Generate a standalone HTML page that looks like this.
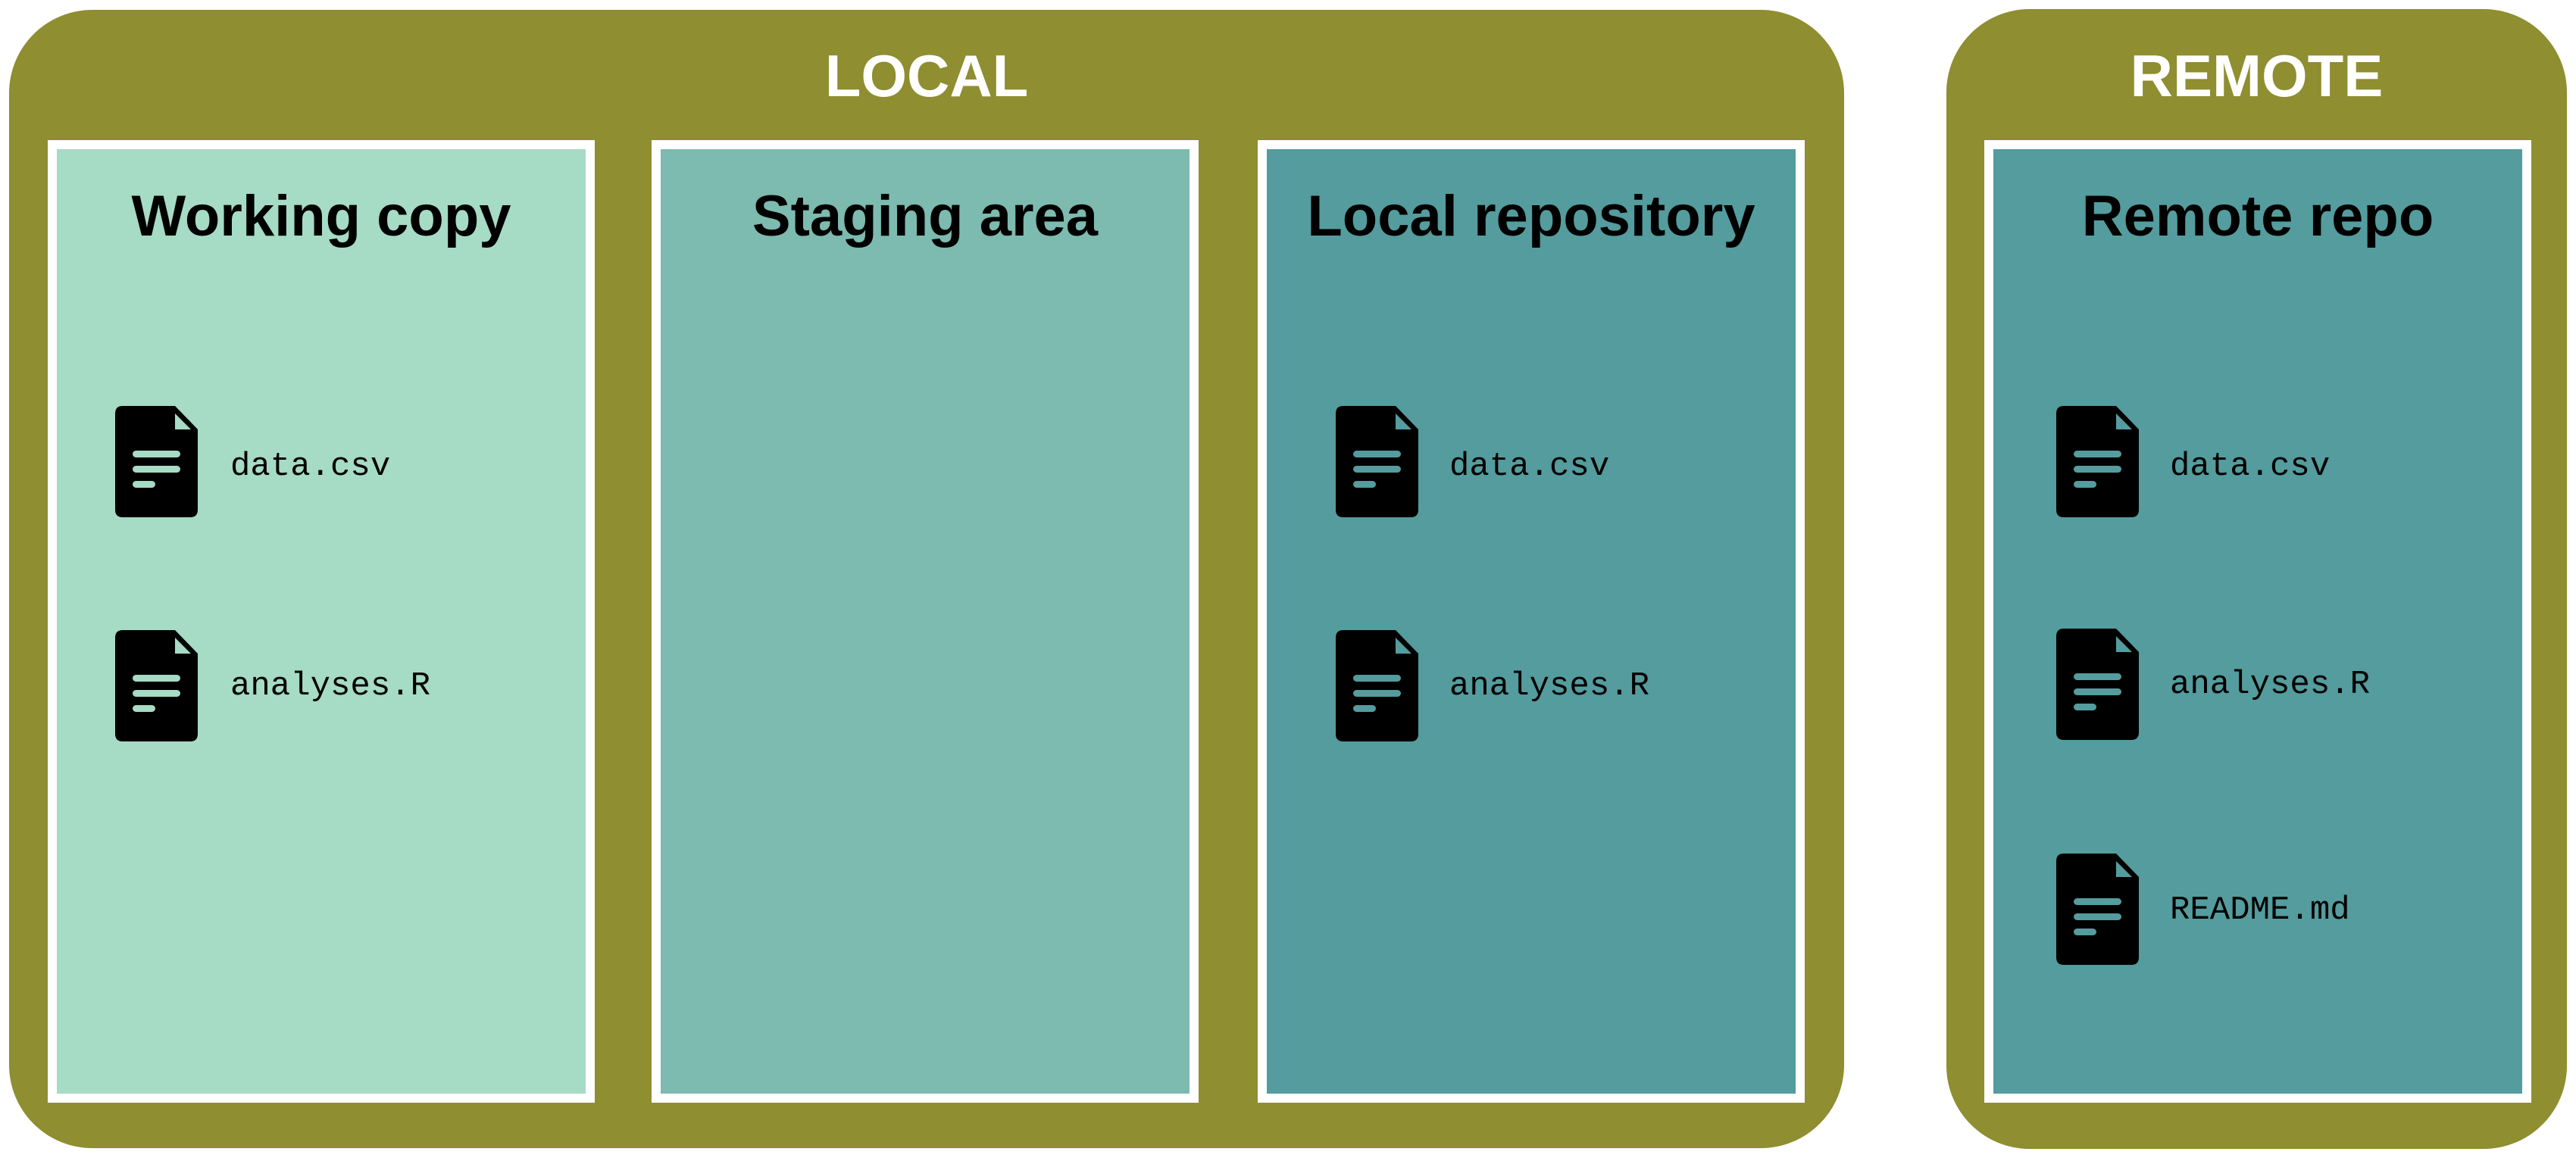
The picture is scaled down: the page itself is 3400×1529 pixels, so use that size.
<!DOCTYPE html>
<html><head><meta charset="utf-8"><style>
body{margin:0;width:3400px;height:1529px;background:#fff;position:relative;overflow:hidden;font-family:"Liberation Sans",sans-serif}
.outer{position:absolute;background:#8f8e30;border-radius:110px}
.h{position:absolute;color:#fff;font-weight:bold;font-size:78px;text-align:center;line-height:1}
.panel{position:absolute;top:185px;height:1247px;border:12px solid #fff;box-sizing:content-box}
.t{position:absolute;left:0;right:0;top:51px;text-align:center;font-weight:bold;font-size:76px;line-height:1;color:#000}
.f{position:absolute;width:109px;height:147px}
.l{position:absolute;font-family:"Liberation Mono",monospace;font-size:44px;line-height:1;color:#000}
</style></head><body>
<div class="outer" style="left:12px;top:13px;width:2422px;height:1503px"></div>
<div class="outer" style="left:2569px;top:12px;width:819px;height:1505px"></div>
<div class="h" style="left:12px;width:2422px;top:61px">LOCAL</div>
<div class="h" style="left:2569px;width:819px;top:61px">REMOTE</div>

<div class="panel" style="left:63px;width:698px;background:#a6dbc5"><div class="t">Working copy</div></div>
<div class="panel" style="left:860px;width:698px;background:#7dbaaf"><div class="t">Staging area</div></div>
<div class="panel" style="left:1660px;width:698px;background:#549c9e"><div class="t">Local repository</div></div>
<div class="panel" style="left:2619px;width:698px;background:#549c9e"><div class="t">Remote repo</div></div>

<svg width="0" height="0" style="position:absolute"><defs>
<symbol id="doc" viewBox="0 0 109 147"><path d="M10 0H79L109 31V137Q109 147 99 147H10Q0 147 0 137V10Q0 0 10 0Z" fill="#000"/></symbol>
</defs></svg>

<svg class="f" style="left:152px;top:536px" viewBox="0 0 109 147"><use href="#doc"/><path d="M79 10L100 31H79Z" fill="#a6dbc5"/><g fill="#a6dbc5"><rect x="23" y="59" width="63" height="9" rx="4.5"/><rect x="23" y="79" width="63" height="9" rx="4.5"/><rect x="23" y="99" width="30" height="9" rx="4.5"/></g></svg>
<div class="l" style="left:304px;top:594px">data.csv</div>
<svg class="f" style="left:152px;top:832px" viewBox="0 0 109 147"><use href="#doc"/><path d="M79 10L100 31H79Z" fill="#a6dbc5"/><g fill="#a6dbc5"><rect x="23" y="59" width="63" height="9" rx="4.5"/><rect x="23" y="79" width="63" height="9" rx="4.5"/><rect x="23" y="99" width="30" height="9" rx="4.5"/></g></svg>
<div class="l" style="left:304px;top:884px">analyses.R</div>

<svg class="f" style="left:1763px;top:536px" viewBox="0 0 109 147"><use href="#doc"/><path d="M79 10L100 31H79Z" fill="#549c9e"/><g fill="#549c9e"><rect x="23" y="59" width="63" height="9" rx="4.5"/><rect x="23" y="79" width="63" height="9" rx="4.5"/><rect x="23" y="99" width="30" height="9" rx="4.5"/></g></svg>
<div class="l" style="left:1913px;top:594px">data.csv</div>
<svg class="f" style="left:1763px;top:832px" viewBox="0 0 109 147"><use href="#doc"/><path d="M79 10L100 31H79Z" fill="#549c9e"/><g fill="#549c9e"><rect x="23" y="59" width="63" height="9" rx="4.5"/><rect x="23" y="79" width="63" height="9" rx="4.5"/><rect x="23" y="99" width="30" height="9" rx="4.5"/></g></svg>
<div class="l" style="left:1913px;top:884px">analyses.R</div>

<svg class="f" style="left:2714px;top:536px" viewBox="0 0 109 147"><use href="#doc"/><path d="M79 10L100 31H79Z" fill="#549c9e"/><g fill="#549c9e"><rect x="23" y="59" width="63" height="9" rx="4.5"/><rect x="23" y="79" width="63" height="9" rx="4.5"/><rect x="23" y="99" width="30" height="9" rx="4.5"/></g></svg>
<div class="l" style="left:2864px;top:594px">data.csv</div>
<svg class="f" style="left:2714px;top:830px" viewBox="0 0 109 147"><use href="#doc"/><path d="M79 10L100 31H79Z" fill="#549c9e"/><g fill="#549c9e"><rect x="23" y="59" width="63" height="9" rx="4.5"/><rect x="23" y="79" width="63" height="9" rx="4.5"/><rect x="23" y="99" width="30" height="9" rx="4.5"/></g></svg>
<div class="l" style="left:2864px;top:882px">analyses.R</div>
<svg class="f" style="left:2714px;top:1127px" viewBox="0 0 109 147"><use href="#doc"/><path d="M79 10L100 31H79Z" fill="#549c9e"/><g fill="#549c9e"><rect x="23" y="59" width="63" height="9" rx="4.5"/><rect x="23" y="79" width="63" height="9" rx="4.5"/><rect x="23" y="99" width="30" height="9" rx="4.5"/></g></svg>
<div class="l" style="left:2864px;top:1180px">README.md</div>
</body></html>
